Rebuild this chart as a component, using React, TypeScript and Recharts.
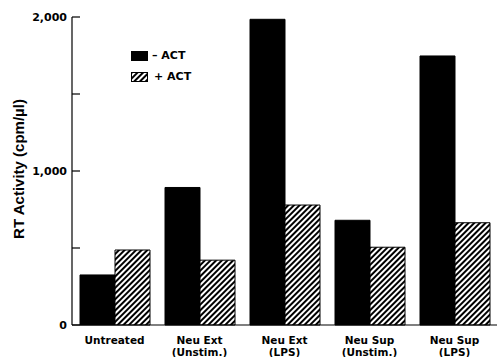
import { Bar, BarChart, XAxis, YAxis } from 'recharts'

const groups = ['Untreated', 'Neu Ext', 'Neu Ext', 'Neu Sup', 'Neu Sup']
const subLabels = ['', '(Unstim.)', '(LPS)', '(Unstim.)', '(LPS)']
const minusAct = [325, 893, 1985, 680, 1747]
const plusAct = [487, 421, 779, 505, 664]
const yTicks = [0, 500, 1000, 1500, 2000]

const data = groups.map((g, i) => ({
  key: `${g}-${i}`,
  group: g,
  sub: subLabels[i],
  minus: minusAct[i],
  plus: plusAct[i],
}))

const FONT = '"DejaVu Sans", sans-serif'

function YTick(props: any) {
  const { x, y, payload } = props
  const v = payload.value as number
  return (
    <g>
      <line x1={x} x2={x + 8} y1={y} y2={y} stroke="#000" strokeWidth={1.2} />
      {v % 1000 === 0 && (
        <text x={x - 5} y={y} dy="0.36em" textAnchor="end" fontFamily={FONT} fontWeight="bold" fontSize={11} fill="#000">
          {v.toLocaleString('en-US')}
        </text>
      )}
    </g>
  )
}

function XTick(props: any) {
  const { x, y, index } = props
  const row = data[index]
  return (
    <g>
      <text x={x} y={y + 19} textAnchor="middle" fontFamily={FONT} fontWeight="bold" fontSize={10.5} fill="#000">
        {row.group}
      </text>
      {row.sub && (
        <text x={x} y={y + 31} textAnchor="middle" fontFamily={FONT} fontWeight="bold" fontSize={10.5} fill="#000">
          {row.sub}
        </text>
      )}
    </g>
  )
}

function YLabel() {
  return (
    <text
      x={19}
      y={169}
      transform="rotate(-90 19 169)"
      textAnchor="middle"
      dy="0.36em"
      fontFamily='"Liberation Sans", Arial, sans-serif'
      fontWeight="bold"
      fontSize={15}
      fill="#000"
    >
      RT Activity (cpm/µl)
    </text>
  )
}

function LegendBox() {
  const row = { display: 'flex', alignItems: 'center', height: 21 }
  const label = { fontFamily: FONT, fontWeight: 700, fontSize: 11, color: '#000', marginLeft: 4 }
  return (
    <div style={{ position: 'absolute', left: 131, top: 45 }}>
      <div style={row}>
        <svg width={17} height={10}>
          <rect x={0.5} y={0.5} width={16} height={9} fill="#000" stroke="#000" />
        </svg>
        <span style={label}>– ACT</span>
      </div>
      <div style={row}>
        <svg width={17} height={10}>
          <defs>
            <pattern id="hatchLegend" patternUnits="userSpaceOnUse" width={4} height={4} patternTransform="rotate(45)">
              <rect width={4} height={4} fill="#fff" />
              <line x1={1} y1={0} x2={1} y2={4} stroke="#000" strokeWidth={2} />
            </pattern>
          </defs>
          <rect x={0.5} y={0.5} width={16} height={9} fill="url(#hatchLegend)" stroke="#000" />
        </svg>
        <span style={{ ...label, marginLeft: 6 }}>+ ACT</span>
      </div>
    </div>
  )
}

export default function App() {
  return (
    <div style={{ position: 'fixed', left: 0, top: 0, width: 497, height: 357, background: '#fff' }}>
      <BarChart width={497} height={357} data={data} margin={{ top: 17, right: 0, bottom: 0, left: 0 }} barGap={0}>
        <defs>
          <pattern id="hatch" patternUnits="userSpaceOnUse" width={4} height={4} patternTransform="rotate(45)">
            <rect width={4} height={4} fill="#fff" />
            <line x1={1} y1={0} x2={1} y2={4} stroke="#000" strokeWidth={2} />
          </pattern>
        </defs>
        <XAxis
          dataKey="key"
          height={32}
          tickLine={false}
          tickSize={0}
          tickMargin={0}
          axisLine={{ stroke: '#000', strokeWidth: 1.2 }}
          tick={<XTick />}
          interval={0}
        />
        <YAxis
          width={72}
          domain={[0, 2000]}
          ticks={yTicks}
          tickLine={false}
          tickSize={0}
          tickMargin={0}
          axisLine={{ stroke: '#000', strokeWidth: 1.2 }}
          tick={<YTick />}
          label={<YLabel />}
        />
        <Bar dataKey="minus" barSize={35} fill="#000" stroke="#000" strokeWidth={1} isAnimationActive={false} />
        <Bar dataKey="plus" barSize={35} fill="url(#hatch)" stroke="#000" strokeWidth={1} isAnimationActive={false} />
      </BarChart>
      <LegendBox />
    </div>
  )
}
